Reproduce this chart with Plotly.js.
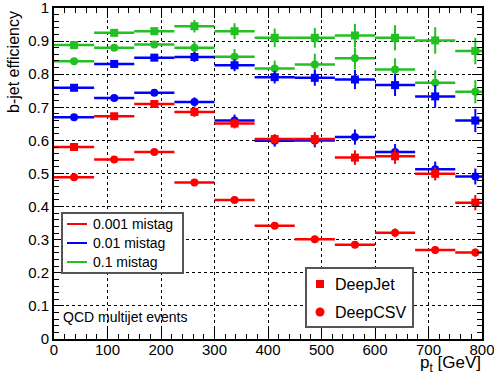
<!DOCTYPE html>
<html>
<head>
<meta charset="utf-8">
<script src="https://cdn.plot.ly/plotly-3.0.1.min.js"></script>
<style>
  html, body { margin: 0; padding: 0; background: #fff; }
  #plot { width: 494px; height: 378px; }
</style>
</head>
<body>
<div id="plot"></div>
<script>
// pt bins (75 GeV wide, last one goes past 800 and is cut by the axis)
var pt = [37.5, 112.5, 187.5, 262.5, 337.5, 412.5, 487.5, 562.5, 637.5, 712.5, 787.5]
var ptHalfWidth = 37.5

// DeepJet (squares)
var dj_001 = [0.580, 0.673, 0.710, 0.686, 0.651, 0.604, 0.604, 0.548, 0.552, 0.499, 0.412]
var dj_001_err = [0.004, 0.005, 0.006, 0.015, 0.015, 0.015, 0.021, 0.022, 0.023, 0.02, 0.023]
var dj_01 = [0.759, 0.831, 0.850, 0.852, 0.827, 0.791, 0.789, 0.784, 0.767, 0.733, 0.660]
var dj_01_err = [0.004, 0.005, 0.008, 0.015, 0.018, 0.019, 0.024, 0.029, 0.033, 0.034, 0.035]
var dj_1 = [0.888, 0.925, 0.930, 0.945, 0.930, 0.910, 0.910, 0.917, 0.910, 0.902, 0.870]
var dj_1_err = [0.004, 0.005, 0.008, 0.019, 0.024, 0.028, 0.03, 0.035, 0.038, 0.04, 0.04]

// DeepCSV (circles)
var dc_001 = [0.489, 0.542, 0.565, 0.473, 0.420, 0.342, 0.301, 0.285, 0.321, 0.269, 0.261]
var dc_001_err = [0.004, 0.004, 0.005, 0.006, 0.007, 0.008, 0.009, 0.01, 0.013, 0.012, 0.012]
var dc_01 = [0.670, 0.728, 0.744, 0.716, 0.660, 0.599, 0.600, 0.610, 0.565, 0.513, 0.491]
var dc_01_err = [0.004, 0.005, 0.006, 0.014, 0.018, 0.018, 0.021, 0.023, 0.024, 0.023, 0.024]
var dc_1 = [0.839, 0.880, 0.890, 0.880, 0.853, 0.817, 0.829, 0.848, 0.814, 0.774, 0.747]
var dc_1_err = [0.004, 0.006, 0.01, 0.02, 0.023, 0.024, 0.033, 0.033, 0.034, 0.038, 0.035]

var mistagLabels = ['0.001 mistag', '0.01 mistag', '0.1 mistag']
var taggerLabels = ['DeepJet', 'DeepCSV']

var RED = '#ff0000'
var BLUE = '#0000ff'
var GREEN = '#22c022'
var FONT = 'Liberation Sans, Arial, Helvetica, sans-serif'

// plot area in page pixels, used to place the legend boxes
var L = 54, R = 482, T = 8, B = 339
function px(x) { return (x - L) / (R - L) }
function py(y) { return (B - y) / (B - T) }

function series(y, err, color, symbol) {
    return {
        x: pt,
        y: y,
        type: 'scatter',
        mode: 'markers',
        showlegend: false,
        marker: { color: color, symbol: symbol, size: 8 },
        error_x: { type: 'constant', value: ptHalfWidth, color: color, thickness: 2.5, width: 0 },
        error_y: { type: 'data', array: err, color: color, thickness: 2, width: 0 },
    }
}

var data = [
    series(dc_1, dc_1_err, GREEN, 'circle'),
    series(dj_1, dj_1_err, GREEN, 'square'),
    series(dc_01, dc_01_err, BLUE, 'circle'),
    series(dj_01, dj_01_err, BLUE, 'square'),
    series(dc_001, dc_001_err, RED, 'circle'),
    series(dj_001, dj_001_err, RED, 'square'),
]

// legend boxes, drawn by hand (ROOT style)
var shapes = [
    { type: 'rect', xref: 'paper', yref: 'paper', layer: 'above',
      x0: px(62), x1: px(183), y0: py(213), y1: py(273),
      fillcolor: '#fff', line: { color: '#555', width: 2 } },
    { type: 'rect', xref: 'paper', yref: 'paper', layer: 'above',
      x0: px(306), x1: px(413), y0: py(268), y1: py(327),
      fillcolor: '#fff', line: { color: '#555', width: 2 } },
]
var annotations = []

var lineColors = [RED, BLUE, GREEN]
var rowY1 = [224, 243, 262]
for (let i = 0; i < mistagLabels.length; i++) {
    shapes.push({ type: 'line', xref: 'paper', yref: 'paper', layer: 'above',
        x0: px(67), x1: px(87), y0: py(rowY1[i]), y1: py(rowY1[i]),
        line: { color: lineColors[i], width: 2 } })
    annotations.push({ text: mistagLabels[i], xref: 'paper', yref: 'paper',
        x: px(91), y: py(rowY1[i]), xanchor: 'left', yanchor: 'middle',
        showarrow: false, font: { family: FONT, size: 14 } })
}

var rowY2 = [284, 312]
// square sample
shapes.push({ type: 'rect', xref: 'paper', yref: 'paper', layer: 'above',
    x0: px(316), x1: px(324), y0: py(rowY2[0] + 4), y1: py(rowY2[0] - 4),
    fillcolor: RED, line: { width: 0 } })
// circle sample
shapes.push({ type: 'circle', xref: 'paper', yref: 'paper', layer: 'above',
    x0: px(315.5), x1: px(324.5), y0: py(rowY2[1] + 4.5), y1: py(rowY2[1] - 4.5),
    fillcolor: RED, line: { width: 0 } })
for (let i = 0; i < taggerLabels.length; i++) {
    annotations.push({ text: taggerLabels[i], xref: 'paper', yref: 'paper',
        x: px(333), y: py(rowY2[i]), xanchor: 'left', yanchor: 'middle',
        showarrow: false, font: { family: FONT, size: 16 } })
}

annotations.push(
    {
        text: 'b-jet efficiency', textangle: -90,
        xref: 'paper', yref: 'paper', x: px(14), y: py(9),
        xanchor: 'center', yanchor: 'top', showarrow: false,
        font: { family: FONT, size: 16 },
    },
    {
        text: 'p<sub>t</sub> [GeV]',
        xref: 'paper', yref: 'paper', x: px(483), y: py(351),
        xanchor: 'right', yanchor: 'top', showarrow: false,
        font: { family: FONT, size: 17 },
    },
    {
        text: 'QCD multijet events',
        xref: 'paper', yref: 'paper', x: px(61), y: py(317),
        xanchor: 'left', yanchor: 'middle', showarrow: false,
        font: { family: FONT, size: 14 },
    }
)

var axisCommon = {
    showline: true, linecolor: '#000', linewidth: 2, mirror: 'allticks',
    ticks: 'inside', ticklen: 10, tickwidth: 1, tickcolor: '#000',
    showgrid: true, gridcolor: '#000', griddash: 'dot', gridwidth: 1,
    zeroline: false, ticklabeloverflow: 'allow',
    tickfont: { family: FONT, size: 15, color: '#000' },
}

var layout = {
    width: 494, height: 378,
    margin: { l: L, r: 494 - R, t: T, b: 378 - B },
    paper_bgcolor: '#fff', plot_bgcolor: '#fff',
    font: { family: FONT, color: '#000' },
    showlegend: false,
    xaxis: Object.assign({}, axisCommon, {
        range: [0, 800], dtick: 100, tick0: 0, ticklabelstandoff: -4,
        minor: { ticks: 'inside', ticklen: 5, dtick: 20, tickcolor: '#000', showgrid: false },
    }),
    yaxis: Object.assign({}, axisCommon, {
        range: [0, 1], dtick: 0.1, tick0: 0,
        minor: { ticks: 'inside', ticklen: 5, dtick: 0.02, tickcolor: '#000', showgrid: false },
    }),
    shapes: shapes,
    annotations: annotations,
}

Plotly.newPlot('plot', data, layout, { displayModeBar: false, staticPlot: true })
</script>
</body>
</html>
